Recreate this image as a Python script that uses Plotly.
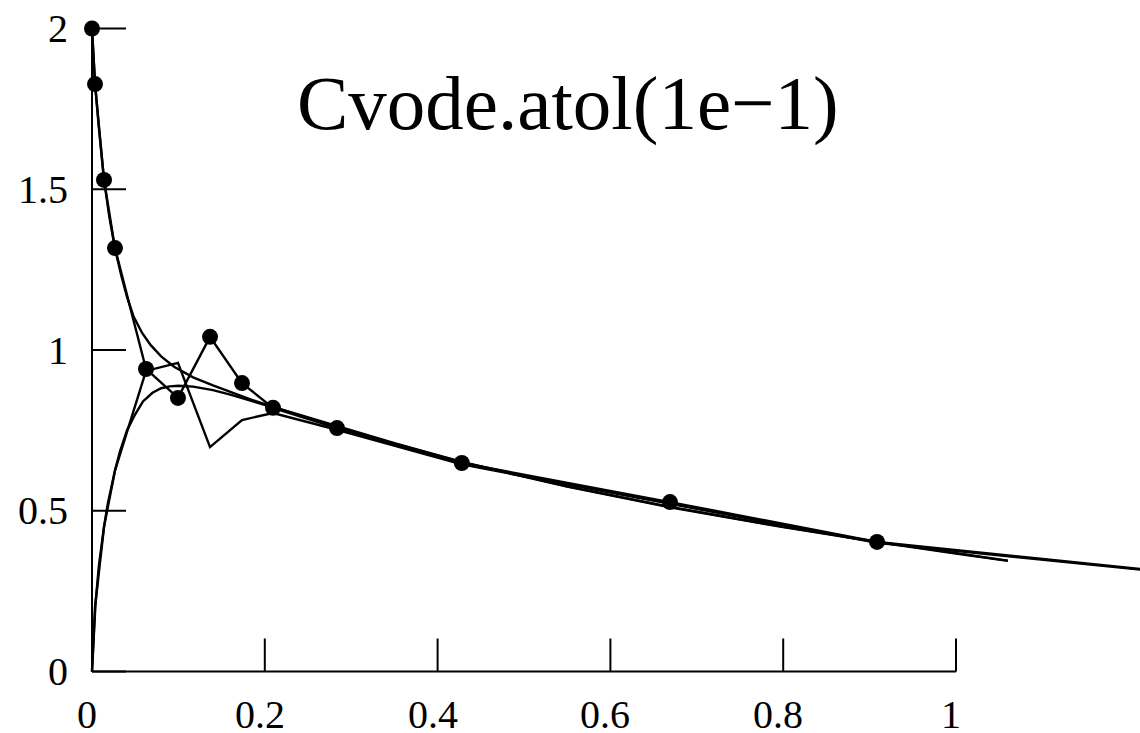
import plotly.graph_objects as go

# ---------------- data ----------------
# CVODE points, decaying state (drawn with dots)
t_pts = [0.0, 0.0035, 0.0139, 0.0266, 0.0625, 0.0995, 0.1366, 0.1736, 0.2095, 0.2836, 0.428, 0.669, 0.9086, 1.3]
y_dots = [2.0, 1.827, 1.529, 1.317, 0.941, 0.851, 1.041, 0.897, 0.820, 0.757, 0.6485, 0.527, 0.403, 0.295]
# CVODE points, rising state (zigzag polyline)
y_zig = [0.0, 0.20, 0.45, 0.625, 0.935, 0.960, 0.698, 0.782, 0.804, 0.752, 0.644, 0.522, 0.400, 0.293]

# smooth (accurate) solutions
s1_x = [0.0, 0.0035, 0.008, 0.0139, 0.020, 0.0266, 0.034, 0.0405, 0.048, 0.058, 0.068, 0.080, 0.095,
        0.117, 0.14, 0.16, 0.185, 0.2095, 0.25, 0.2836, 0.35, 0.428, 0.55, 0.669, 0.8, 0.9086, 1.0, 1.06]
s1_y = [2.0, 1.83, 1.69, 1.53, 1.415, 1.315, 1.23, 1.165, 1.105, 1.053, 1.015, 0.98, 0.948,
        0.915, 0.89, 0.869, 0.845, 0.823, 0.79, 0.762, 0.71, 0.652, 0.576, 0.512, 0.45, 0.404, 0.368, 0.345]
s2_x = [0.0, 0.002, 0.004, 0.008, 0.0139, 0.0185, 0.0266, 0.0324, 0.0405, 0.05, 0.059, 0.07, 0.08, 0.09,
        0.10, 0.117, 0.14, 0.16, 0.185, 0.2095, 0.25, 0.2836, 0.35, 0.428, 0.55, 0.669, 0.8, 0.9086, 1.0, 1.06]
s2_y = [0.0, 0.12, 0.21, 0.33, 0.45, 0.525, 0.625, 0.685, 0.75, 0.80, 0.84, 0.867, 0.881, 0.887,
        0.889, 0.886, 0.875, 0.861, 0.842, 0.822, 0.789, 0.761, 0.709, 0.651, 0.575, 0.511, 0.449, 0.403, 0.367, 0.344]

x_ticks = [0, 0.2, 0.4, 0.6, 0.8, 1]
x_tick_text = ["0", "0.2", "0.4", "0.6", "0.8", "1"]
y_ticks = [0, 0.5, 1, 1.5, 2]
y_tick_text = ["0", "0.5", "1", "1.5", "2"]
title_text = "Cvode.atol(1e\u22121)"

# ---------------- geometry / style ----------------
W, H = 1140, 733
X0_PX, XSCALE = 92.0, 864.0      # pixel of x=0, pixels per x unit
Y0_PX, YSCALE = 671.5, 321.5     # pixel of y=0, pixels per y unit
x_range = [-X0_PX / XSCALE, (W - X0_PX) / XSCALE]
y_range = [(Y0_PX - H) / YSCALE, Y0_PX / YSCALE]
XTICK_LEN = 33 / YSCALE
YTICK_LEN = 34 / XSCALE
FONT = "Liberation Serif"
LW = 2.4

fig = go.Figure()
line = dict(color="black", width=LW)
axline = dict(color="black", width=2)
fig.add_trace(go.Scatter(x=s1_x, y=s1_y, mode="lines", line=line, hoverinfo="skip"))
fig.add_trace(go.Scatter(x=s2_x, y=s2_y, mode="lines", line=line, hoverinfo="skip"))
fig.add_trace(go.Scatter(x=t_pts, y=y_zig, mode="lines", line=line, hoverinfo="skip"))
fig.add_trace(go.Scatter(x=t_pts, y=y_dots, mode="lines+markers", line=line,
                         marker=dict(color="black", size=16), cliponaxis=False, hoverinfo="skip"))

shapes = []
# axis lines
shapes.append(dict(type="line", xref="x", yref="y", x0=x_ticks[0], x1=x_ticks[-1], y0=0, y1=0, line=axline))
shapes.append(dict(type="line", xref="x", yref="y", x0=0, x1=0, y0=y_ticks[0], y1=y_ticks[-1], line=axline))
for v in x_ticks:
    shapes.append(dict(type="line", xref="x", yref="y", x0=v, x1=v, y0=0, y1=XTICK_LEN, line=axline))
for v in y_ticks:
    shapes.append(dict(type="line", xref="x", yref="y", x0=0, x1=YTICK_LEN, y0=v, y1=v, line=axline))

ann = []
for v, s in zip(x_ticks, x_tick_text):
    ann.append(dict(x=v, y=0, xref="x", yref="y", text=s, showarrow=False, xanchor="center",
                    yanchor="top", yshift=-18, xshift=-5, font=dict(family=FONT, size=40, color="black")))
for v, s in zip(y_ticks, y_tick_text):
    ann.append(dict(x=0, y=v, xref="x", yref="y", text=s, showarrow=False, xanchor="right",
                    yanchor="middle", xshift=-22, font=dict(family=FONT, size=40, color="black")))
ann.append(dict(x=568 / W, y=1 - 103 / H, xref="paper", yref="paper", text=title_text, showarrow=False,
                xanchor="center", yanchor="middle", font=dict(family=FONT, size=77, color="black")))

fig.update_layout(
    width=W, height=H, margin=dict(l=0, r=0, t=0, b=0),
    paper_bgcolor="white", plot_bgcolor="white", showlegend=False,
    xaxis=dict(range=x_range, visible=False, fixedrange=True),
    yaxis=dict(range=y_range, visible=False, fixedrange=True),
    shapes=shapes, annotations=ann,
)
fig.write_html("out.html")
